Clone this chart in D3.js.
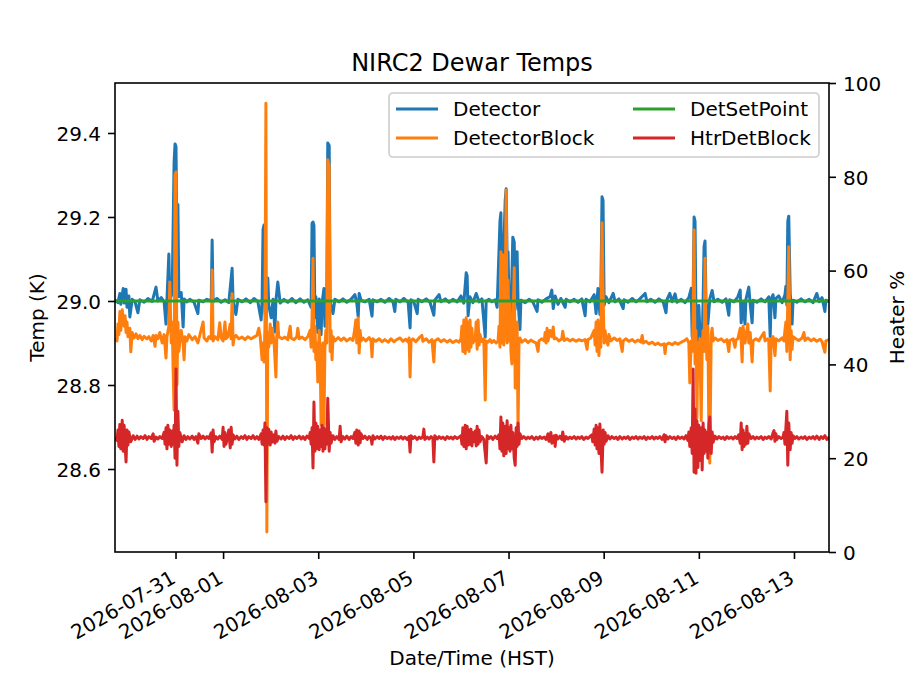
<!DOCTYPE html>
<html>
<head>
<meta charset="utf-8">
<script src="https://cdn.jsdelivr.net/npm/d3@7"></script>
<style>
body { margin: 0; background: #fff; }
text { font-family: "DejaVu Sans", sans-serif; fill: #000; }
</style>
</head>
<body>
<div id="chart"></div>
<script>
// time is in days since 2026-07-29 00:00 HST
const startDay = "2026-07-29";
const xLimits = [0.728, 15.736];
const tempLimits = [28.4024, 29.519];
const heaterLimits = [0, 100];
const tempTicks = [28.6, 28.8, 29.0, 29.2, 29.4];
const heaterTicks = [0, 20, 40, 60, 80, 100];
const dateTicks = ["2026-07-31", "2026-08-01", "2026-08-03", "2026-08-05", "2026-08-07", "2026-08-09", "2026-08-11", "2026-08-13"];
const seriesNames = ["Detector", "DetectorBlock", "DetSetPoint", "HtrDetBlock"];

// Detector temperature (K)
const detector = [[0.73,29.002],[0.79,28.996],[0.83,29.018],[0.85,28.992],[0.90,29.030],[0.92,28.995],[0.96,29.028],[0.98,28.985],[1.02,29.012],[1.04,28.962],[1.09,29.004],[1.15,28.998],[1.21,28.972],[1.25,29.003],[1.34,28.997],[1.42,29.006],[1.51,28.999],[1.59,29.033],[1.63,29.000],[1.70,29.008],[1.76,28.998],[1.80,28.945],[1.82,29.002],[1.86,29.112],[1.88,29.000],[1.93,29.020],[1.97,29.330],[1.99,29.374],[2.01,29.368],[2.03,29.150],[2.05,29.230],[2.07,29.010],[2.12,29.020],[2.16,28.938],[2.18,29.005],[2.24,28.998],[2.30,29.004],[2.39,28.997],[2.47,28.970],[2.49,29.002],[2.58,28.998],[2.66,29.004],[2.75,29.000],[2.77,29.145],[2.79,28.998],[2.87,29.006],[2.96,28.997],[3.04,29.003],[3.12,28.996],[3.19,29.078],[3.21,29.000],[3.27,28.968],[3.31,29.004],[3.40,28.998],[3.48,29.005],[3.57,28.996],[3.65,29.006],[3.73,28.999],[3.80,28.955],[3.82,29.002],[3.84,29.170],[3.86,29.181],[3.88,28.975],[3.90,28.950],[3.94,29.055],[3.96,28.990],[4.01,28.960],[4.05,29.004],[4.09,28.926],[4.11,29.000],[4.15,29.045],[4.20,28.995],[4.28,29.004],[4.36,28.997],[4.45,29.006],[4.53,28.996],[4.62,29.005],[4.70,28.997],[4.78,29.003],[4.85,28.985],[4.87,29.185],[4.89,29.188],[4.91,29.180],[4.93,28.960],[4.95,29.010],[4.99,28.925],[5.02,29.005],[5.06,28.920],[5.08,28.995],[5.12,29.030],[5.14,28.940],[5.18,29.010],[5.20,29.376],[5.23,29.370],[5.25,29.000],[5.31,28.970],[5.35,29.004],[5.44,28.998],[5.52,29.005],[5.60,28.997],[5.69,29.004],[5.77,29.015],[5.81,28.995],[5.84,28.962],[5.86,29.018],[5.90,29.002],[5.98,28.998],[6.07,29.004],[6.13,28.964],[6.15,29.003],[6.24,28.998],[6.32,29.004],[6.40,28.997],[6.49,29.006],[6.57,28.998],[6.61,28.975],[6.63,29.004],[6.72,28.998],[6.80,29.006],[6.89,28.997],[6.93,28.936],[6.95,29.003],[7.01,28.998],[7.08,28.970],[7.10,29.004],[7.18,28.998],[7.27,29.005],[7.35,28.997],[7.43,28.966],[7.45,29.002],[7.54,29.015],[7.58,28.998],[7.67,29.005],[7.75,28.997],[7.83,29.004],[7.92,28.998],[8.00,29.012],[8.06,28.995],[8.11,29.067],[8.13,29.060],[8.15,28.965],[8.19,29.010],[8.25,28.996],[8.32,29.018],[8.38,28.998],[8.44,29.005],[8.51,28.914],[8.53,29.000],[8.59,29.004],[8.65,28.998],[8.72,29.003],[8.76,28.985],[8.82,29.190],[8.84,29.210],[8.86,29.000],[8.88,29.050],[8.93,29.240],[8.95,29.267],[8.97,29.100],[8.99,29.117],[9.01,28.990],[9.05,28.960],[9.09,29.152],[9.12,29.140],[9.14,28.980],[9.18,29.117],[9.20,29.000],[9.24,28.932],[9.26,29.002],[9.35,28.996],[9.43,29.004],[9.51,28.998],[9.60,28.975],[9.62,29.003],[9.70,28.997],[9.79,29.005],[9.87,29.010],[9.91,29.026],[9.94,28.982],[9.98,29.012],[10.04,28.992],[10.10,29.006],[10.19,28.985],[10.21,29.004],[10.29,28.998],[10.38,29.004],[10.46,28.997],[10.54,29.005],[10.61,28.965],[10.63,29.004],[10.71,28.998],[10.80,29.015],[10.84,28.970],[10.88,29.030],[10.92,28.968],[10.94,29.020],[10.965,29.248],[10.986,29.240],[11.01,28.990],[11.05,29.010],[11.11,28.996],[11.20,29.018],[11.24,28.998],[11.32,29.005],[11.41,28.982],[11.43,29.003],[11.51,28.997],[11.60,29.006],[11.68,28.998],[11.76,29.005],[11.87,29.018],[11.91,28.998],[11.99,29.004],[12.08,28.997],[12.16,29.005],[12.25,28.998],[12.31,28.972],[12.33,29.003],[12.39,29.018],[12.44,28.998],[12.50,29.017],[12.54,28.997],[12.63,29.004],[12.71,28.996],[12.79,29.008],[12.84,29.030],[12.86,28.915],[12.88,29.010],[12.90,29.200],[12.92,29.190],[12.94,28.960],[12.98,28.900],[13.00,28.990],[13.02,28.930],[13.07,28.905],[13.09,29.000],[13.11,29.130],[13.13,29.143],[13.15,29.000],[13.19,28.945],[13.23,29.005],[13.28,29.025],[13.32,28.998],[13.40,29.004],[13.49,28.997],[13.57,29.005],[13.63,28.966],[13.65,29.003],[13.74,28.998],[13.82,29.010],[13.87,29.026],[13.89,28.948],[13.93,28.995],[13.97,28.945],[13.99,29.004],[14.05,29.033],[14.08,28.992],[14.12,28.948],[14.14,29.002],[14.22,28.997],[14.31,29.005],[14.39,28.998],[14.47,29.010],[14.50,28.915],[14.52,29.004],[14.56,29.015],[14.60,28.960],[14.62,29.006],[14.68,29.012],[14.75,28.996],[14.81,29.015],[14.83,29.035],[14.85,28.990],[14.87,29.190],[14.89,29.202],[14.92,29.020],[14.96,28.945],[14.98,29.002],[15.06,28.997],[15.15,29.005],[15.23,28.998],[15.32,29.004],[15.40,28.996],[15.48,29.018],[15.53,28.998],[15.59,29.008],[15.65,28.975],[15.67,29.002],[15.74,28.998]];

// DetectorBlock temperature (K)
const detectorBlock = [[0.73,28.912],[0.77,28.905],[0.79,28.945],[0.81,28.920],[0.83,28.975],[0.85,28.930],[0.88,28.979],[0.92,28.940],[0.94,28.965],[0.96,28.925],[0.98,28.950],[1.00,28.915],[1.04,28.935],[1.06,28.879],[1.09,28.925],[1.13,28.912],[1.17,28.922],[1.21,28.910],[1.25,28.918],[1.30,28.908],[1.34,28.916],[1.40,28.910],[1.44,28.915],[1.49,28.905],[1.53,28.918],[1.57,28.892],[1.59,28.918],[1.63,28.910],[1.67,28.925],[1.72,28.900],[1.76,28.920],[1.80,28.864],[1.82,28.915],[1.86,28.940],[1.88,29.045],[1.91,28.900],[1.93,28.950],[1.95,28.836],[1.97,28.740],[1.99,29.300],[2.01,29.307],[2.03,28.800],[2.05,28.950],[2.07,28.880],[2.12,28.930],[2.16,28.900],[2.18,28.860],[2.20,28.915],[2.24,28.905],[2.28,28.920],[2.35,28.908],[2.41,28.915],[2.47,28.900],[2.51,28.918],[2.58,28.950],[2.60,28.912],[2.66,28.905],[2.70,28.915],[2.75,28.910],[2.77,29.074],[2.79,28.905],[2.83,28.915],[2.89,28.908],[2.93,28.948],[2.96,28.912],[3.00,28.905],[3.04,28.950],[3.06,28.910],[3.10,28.915],[3.15,28.945],[3.17,28.910],[3.19,29.017],[3.21,28.895],[3.23,28.912],[3.27,28.918],[3.33,28.910],[3.40,28.914],[3.46,28.908],[3.52,28.915],[3.59,28.910],[3.65,28.914],[3.71,28.918],[3.75,28.935],[3.78,28.915],[3.82,28.860],[3.84,28.900],[3.86,28.855],[3.88,28.940],[3.90,29.471],[3.92,28.450],[3.94,28.925],[3.96,28.890],[3.99,28.945],[4.01,28.900],[4.03,28.935],[4.07,28.905],[4.11,28.819],[4.13,28.920],[4.15,28.950],[4.17,28.915],[4.24,28.910],[4.30,28.914],[4.36,28.908],[4.41,28.940],[4.43,28.912],[4.49,28.908],[4.55,28.915],[4.57,28.935],[4.60,28.910],[4.66,28.914],[4.72,28.908],[4.78,28.915],[4.83,28.930],[4.85,28.890],[4.87,28.960],[4.89,29.102],[4.91,28.880],[4.93,28.940],[4.95,28.860],[4.97,28.900],[4.99,28.807],[5.02,28.930],[5.04,28.870],[5.06,28.705],[5.08,28.880],[5.10,28.900],[5.12,28.705],[5.14,28.890],[5.16,28.930],[5.18,28.900],[5.20,29.336],[5.23,29.320],[5.25,28.880],[5.27,28.930],[5.29,28.860],[5.31,28.915],[5.35,28.905],[5.42,28.913],[5.48,28.906],[5.54,28.912],[5.60,28.905],[5.67,28.911],[5.73,28.906],[5.77,28.935],[5.79,28.955],[5.81,28.900],[5.84,28.960],[5.86,28.876],[5.88,28.930],[5.90,28.905],[5.94,28.912],[6.00,28.905],[6.07,28.913],[6.11,28.905],[6.13,28.867],[6.15,28.910],[6.21,28.904],[6.28,28.910],[6.34,28.903],[6.40,28.908],[6.47,28.902],[6.53,28.910],[6.59,28.903],[6.65,28.908],[6.72,28.912],[6.78,28.904],[6.84,28.909],[6.89,28.902],[6.91,28.912],[6.93,28.819],[6.95,28.905],[6.99,28.910],[7.05,28.903],[7.12,28.912],[7.18,28.918],[7.20,28.904],[7.27,28.910],[7.33,28.902],[7.39,28.908],[7.43,28.855],[7.45,28.905],[7.52,28.910],[7.58,28.903],[7.64,28.908],[7.71,28.902],[7.77,28.907],[7.83,28.901],[7.90,28.906],[7.96,28.902],[8.00,28.910],[8.02,28.940],[8.04,28.880],[8.06,28.955],[8.09,28.875],[8.11,28.960],[8.13,28.885],[8.15,28.950],[8.17,28.880],[8.19,28.955],[8.21,28.890],[8.23,28.935],[8.25,28.900],[8.30,28.910],[8.32,28.950],[8.34,28.885],[8.36,28.955],[8.38,28.895],[8.40,28.920],[8.44,28.903],[8.48,28.910],[8.51,28.764],[8.53,28.905],[8.57,28.902],[8.61,28.908],[8.65,28.901],[8.69,28.906],[8.74,28.900],[8.78,28.905],[8.80,28.940],[8.82,28.890],[8.84,29.117],[8.86,28.900],[8.88,29.110],[8.90,28.895],[8.93,29.000],[8.95,29.264],[8.97,28.900],[8.99,29.050],[9.01,28.905],[9.03,29.000],[9.05,28.880],[9.07,28.850],[9.09,28.920],[9.12,29.079],[9.14,28.793],[9.16,28.910],[9.18,28.950],[9.20,28.693],[9.22,28.905],[9.24,28.912],[9.28,28.902],[9.35,28.908],[9.41,28.901],[9.47,28.907],[9.54,28.902],[9.58,28.900],[9.62,28.880],[9.64,28.905],[9.70,28.910],[9.75,28.905],[9.77,28.925],[9.79,28.900],[9.81,28.935],[9.83,28.905],[9.87,28.930],[9.91,28.915],[9.94,28.938],[9.96,28.910],[10.00,28.912],[10.06,28.905],[10.12,28.910],[10.14,28.928],[10.17,28.906],[10.23,28.910],[10.29,28.905],[10.35,28.909],[10.42,28.904],[10.48,28.908],[10.54,28.905],[10.61,28.908],[10.65,28.885],[10.67,28.908],[10.73,28.912],[10.80,28.930],[10.82,28.895],[10.84,28.950],[10.86,28.880],[10.88,28.955],[10.90,28.870],[10.92,28.940],[10.94,28.890],[10.965,29.186],[10.99,29.000],[11.01,28.900],[11.03,28.930],[11.05,28.910],[11.09,28.895],[11.11,28.920],[11.15,28.905],[11.22,28.912],[11.28,28.906],[11.34,28.910],[11.39,28.880],[11.41,28.905],[11.47,28.910],[11.53,28.904],[11.60,28.908],[11.66,28.902],[11.72,28.907],[11.78,28.902],[11.81,28.918],[11.83,28.900],[11.89,28.904],[11.95,28.898],[12.02,28.902],[12.08,28.896],[12.14,28.900],[12.20,28.895],[12.27,28.898],[12.29,28.875],[12.31,28.896],[12.37,28.900],[12.44,28.896],[12.50,28.901],[12.56,28.897],[12.63,28.902],[12.69,28.905],[12.75,28.910],[12.79,28.900],[12.81,28.805],[12.84,28.905],[12.86,28.880],[12.88,28.950],[12.90,29.169],[12.92,28.850],[12.94,28.930],[12.96,28.721],[12.98,28.900],[13.00,28.870],[13.02,28.910],[13.05,28.715],[13.07,28.890],[13.09,28.930],[13.11,28.880],[13.13,29.102],[13.15,28.920],[13.17,28.860],[13.19,28.940],[13.21,28.700],[13.23,28.614],[13.26,28.920],[13.28,28.935],[13.30,28.905],[13.34,28.912],[13.40,28.906],[13.47,28.910],[13.53,28.903],[13.59,28.908],[13.63,28.880],[13.65,28.906],[13.72,28.910],[13.76,28.890],[13.78,28.907],[13.82,28.910],[13.87,28.935],[13.89,28.905],[13.91,28.855],[13.93,28.940],[13.97,28.900],[14.01,28.930],[14.03,28.945],[14.05,28.900],[14.08,28.925],[14.12,28.855],[14.14,28.905],[14.20,28.910],[14.26,28.905],[14.33,28.918],[14.37,28.925],[14.39,28.905],[14.45,28.910],[14.47,28.905],[14.50,28.786],[14.52,28.910],[14.56,28.915],[14.60,28.870],[14.62,28.910],[14.68,28.905],[14.75,28.912],[14.79,28.905],[14.81,28.930],[14.83,28.950],[14.85,28.880],[14.87,29.000],[14.89,29.129],[14.92,28.860],[14.94,28.930],[14.96,28.885],[14.98,28.915],[15.04,28.910],[15.10,28.906],[15.17,28.912],[15.21,28.925],[15.23,28.906],[15.29,28.912],[15.36,28.905],[15.42,28.910],[15.48,28.904],[15.55,28.909],[15.59,28.903],[15.65,28.878],[15.67,28.905],[15.74,28.908]];

// DetSetPoint (K)
const detSetPoint = [[0.728,29.0],[15.736,29.0]];

// HtrDetBlock heater output (%)
const htrDetBlock = [[0.73,24.5],[0.77,23.8],[0.79,26.0],[0.81,22.5],[0.83,27.2],[0.85,22.0],[0.88,28.1],[0.90,21.5],[0.92,27.0],[0.94,23.0],[0.96,19.2],[0.98,26.0],[1.00,22.8],[1.02,25.6],[1.06,23.5],[1.11,24.8],[1.15,24.0],[1.19,24.7],[1.23,24.1],[1.27,24.6],[1.32,24.2],[1.36,24.8],[1.40,24.0],[1.44,24.6],[1.49,24.2],[1.53,25.2],[1.55,23.6],[1.59,24.5],[1.63,24.1],[1.67,24.6],[1.72,24.2],[1.76,25.5],[1.78,23.0],[1.80,26.5],[1.82,22.0],[1.84,27.0],[1.86,23.0],[1.88,26.0],[1.91,22.5],[1.93,25.8],[1.95,23.0],[1.97,27.0],[1.99,20.0],[2.01,39.0],[2.03,18.5],[2.05,30.0],[2.07,22.5],[2.09,25.5],[2.14,23.5],[2.18,24.8],[2.22,24.0],[2.26,24.6],[2.30,24.1],[2.35,24.7],[2.39,24.0],[2.43,24.6],[2.47,23.2],[2.49,25.2],[2.54,24.2],[2.58,24.7],[2.62,24.1],[2.66,24.6],[2.70,24.2],[2.75,25.4],[2.77,21.3],[2.79,26.0],[2.81,23.5],[2.85,24.6],[2.89,24.1],[2.93,24.7],[2.98,24.0],[3.00,26.6],[3.02,22.5],[3.04,25.5],[3.06,23.0],[3.10,24.6],[3.12,26.0],[3.15,22.2],[3.17,26.6],[3.19,23.0],[3.21,25.0],[3.25,24.1],[3.29,24.7],[3.33,24.0],[3.38,24.6],[3.42,24.2],[3.46,24.8],[3.50,24.0],[3.54,24.6],[3.59,24.2],[3.63,24.8],[3.67,24.1],[3.71,24.6],[3.75,24.0],[3.80,25.2],[3.82,23.0],[3.84,26.0],[3.86,22.8],[3.88,27.5],[3.90,10.7],[3.92,26.5],[3.94,23.0],[3.96,26.2],[3.99,22.8],[4.01,25.6],[4.03,23.4],[4.07,25.0],[4.09,23.2],[4.11,25.8],[4.13,23.6],[4.17,24.6],[4.22,24.1],[4.26,24.7],[4.30,24.0],[4.34,24.6],[4.39,24.2],[4.43,24.8],[4.47,24.0],[4.51,24.6],[4.55,24.2],[4.60,24.7],[4.64,24.1],[4.68,24.6],[4.72,24.0],[4.76,24.7],[4.81,24.2],[4.83,25.5],[4.85,23.0],[4.87,26.5],[4.89,17.9],[4.91,32.0],[4.93,21.5],[4.95,27.5],[4.97,22.0],[4.99,26.8],[5.02,21.8],[5.04,26.0],[5.06,22.5],[5.08,27.0],[5.10,21.5],[5.12,26.5],[5.14,22.0],[5.16,26.0],[5.18,23.0],[5.20,32.8],[5.23,21.5],[5.25,25.5],[5.27,23.2],[5.31,24.8],[5.35,24.0],[5.39,24.6],[5.44,24.0],[5.46,26.8],[5.48,23.5],[5.52,24.6],[5.56,24.1],[5.60,24.7],[5.65,24.0],[5.69,24.6],[5.73,24.2],[5.77,25.5],[5.79,23.2],[5.81,26.0],[5.84,22.8],[5.86,25.8],[5.88,23.3],[5.90,25.2],[5.94,24.2],[5.98,24.7],[6.03,24.0],[6.07,24.6],[6.11,24.2],[6.13,23.0],[6.15,24.8],[6.19,24.1],[6.24,24.6],[6.28,24.2],[6.32,24.7],[6.36,24.0],[6.40,24.6],[6.45,24.2],[6.49,24.5],[6.53,24.1],[6.57,24.6],[6.61,24.0],[6.65,24.5],[6.70,24.2],[6.74,24.6],[6.78,24.1],[6.82,24.5],[6.87,24.0],[6.91,24.6],[6.93,21.3],[6.95,24.8],[6.99,24.2],[7.03,24.6],[7.08,24.0],[7.12,24.5],[7.16,24.2],[7.20,24.6],[7.22,26.2],[7.24,24.0],[7.29,24.5],[7.33,24.1],[7.37,24.6],[7.41,24.2],[7.43,19.2],[7.45,24.8],[7.50,24.1],[7.54,24.6],[7.58,24.2],[7.62,24.5],[7.67,24.0],[7.71,24.6],[7.75,24.2],[7.79,24.5],[7.83,24.1],[7.87,24.6],[7.92,24.2],[7.96,24.5],[8.00,24.8],[8.02,23.0],[8.04,26.5],[8.06,22.5],[8.09,27.0],[8.11,22.0],[8.13,26.8],[8.15,22.8],[8.17,26.0],[8.19,23.0],[8.21,26.2],[8.23,22.6],[8.25,25.5],[8.27,23.5],[8.30,25.8],[8.32,22.6],[8.34,26.8],[8.36,23.0],[8.38,26.0],[8.40,23.5],[8.44,24.6],[8.48,24.0],[8.53,19.0],[8.55,24.8],[8.59,24.2],[8.63,24.6],[8.67,24.0],[8.72,24.7],[8.76,24.2],[8.80,25.0],[8.82,22.0],[8.84,28.8],[8.86,21.5],[8.88,27.5],[8.90,20.5],[8.93,26.8],[8.95,21.0],[8.97,28.0],[8.99,22.0],[9.01,26.5],[9.03,21.5],[9.05,27.0],[9.07,22.0],[9.09,25.5],[9.12,20.0],[9.14,18.5],[9.16,26.5],[9.18,22.5],[9.20,27.5],[9.22,23.0],[9.24,25.2],[9.28,24.2],[9.32,24.6],[9.37,24.1],[9.41,24.5],[9.45,24.2],[9.49,24.6],[9.54,24.0],[9.58,24.5],[9.62,24.1],[9.66,24.6],[9.70,24.2],[9.75,24.5],[9.79,24.0],[9.83,25.2],[9.85,23.6],[9.89,25.5],[9.91,23.2],[9.96,24.8],[9.98,22.5],[10.00,24.9],[10.04,24.1],[10.08,24.7],[10.12,24.0],[10.14,25.6],[10.17,23.6],[10.21,24.6],[10.25,24.1],[10.29,24.5],[10.33,24.2],[10.38,24.6],[10.42,24.1],[10.46,24.5],[10.50,24.2],[10.54,24.6],[10.58,24.0],[10.63,24.5],[10.67,24.2],[10.71,24.6],[10.75,25.0],[10.77,23.5],[10.80,26.2],[10.82,22.8],[10.84,27.0],[10.86,22.0],[10.88,26.5],[10.90,21.0],[10.92,27.3],[10.94,23.0],[10.965,17.0],[10.99,26.0],[11.01,23.0],[11.03,25.5],[11.05,23.6],[11.09,24.8],[11.13,24.1],[11.17,24.6],[11.22,24.2],[11.26,24.5],[11.30,24.0],[11.34,24.6],[11.39,24.1],[11.43,24.5],[11.47,24.2],[11.51,24.6],[11.55,24.0],[11.60,24.5],[11.64,24.2],[11.68,24.6],[11.72,24.1],[11.76,24.5],[11.81,24.2],[11.85,24.6],[11.89,24.0],[11.93,24.5],[11.97,24.2],[12.02,24.6],[12.06,24.1],[12.10,24.5],[12.14,24.2],[12.18,24.6],[12.23,24.0],[12.27,25.0],[12.29,23.5],[12.31,24.8],[12.35,24.1],[12.39,24.6],[12.44,24.2],[12.48,24.5],[12.52,24.0],[12.56,24.6],[12.60,24.2],[12.65,24.5],[12.69,24.1],[12.73,24.8],[12.77,23.8],[12.79,25.6],[12.81,22.5],[12.84,26.5],[12.86,21.0],[12.88,39.0],[12.90,17.0],[12.92,30.5],[12.94,16.8],[12.96,28.0],[12.98,18.0],[13.00,27.0],[13.02,19.5],[13.05,26.5],[13.07,17.5],[13.09,27.5],[13.11,21.0],[13.13,26.0],[13.15,21.5],[13.17,25.5],[13.19,20.0],[13.21,27.0],[13.23,28.8],[13.26,21.0],[13.28,25.6],[13.30,23.4],[13.34,24.7],[13.38,24.1],[13.42,24.6],[13.47,24.2],[13.51,24.5],[13.55,24.0],[13.59,24.6],[13.63,24.2],[13.68,24.5],[13.72,24.1],[13.76,24.6],[13.80,24.2],[13.84,25.0],[13.87,23.2],[13.89,27.5],[13.91,21.8],[13.93,26.0],[13.95,22.5],[13.97,25.2],[13.99,23.0],[14.01,26.8],[14.03,23.2],[14.05,25.2],[14.10,24.2],[14.14,24.6],[14.18,24.1],[14.22,24.5],[14.26,24.2],[14.31,24.6],[14.35,24.0],[14.39,24.5],[14.43,24.2],[14.47,24.6],[14.52,24.1],[14.56,25.4],[14.58,25.9],[14.60,23.6],[14.62,25.2],[14.64,24.0],[14.68,24.6],[14.73,24.2],[14.77,24.5],[14.79,25.5],[14.81,23.0],[14.83,26.5],[14.85,30.0],[14.87,18.5],[14.89,27.5],[14.92,21.8],[14.94,25.5],[14.96,23.2],[14.98,24.8],[15.02,24.2],[15.06,24.6],[15.10,24.1],[15.15,24.5],[15.19,24.2],[15.23,24.6],[15.27,24.0],[15.32,24.5],[15.36,24.2],[15.40,24.6],[15.44,24.1],[15.48,24.7],[15.53,24.0],[15.57,24.6],[15.61,24.2],[15.65,24.8],[15.69,24.0],[15.74,24.5]];

const width = 921, height = 691;
const plot = { left: 115, right: 829, top: 83, bottom: 552 };
const colors = ["#1f77b4", "#ff7f0e", "#2ca02c", "#d62728"];

const parseDay = d3.timeParse("%Y-%m-%d");
const t0 = parseDay(startDay);
const toDate = d => new Date(t0.getTime() + d * 864e5);

const x = d3.scaleTime().domain(xLimits.map(toDate)).range([plot.left, plot.right]);
const y = d3.scaleLinear().domain(tempLimits).range([plot.bottom, plot.top]);
const y2 = d3.scaleLinear().domain(heaterLimits).range([plot.bottom, plot.top]);

const svg = d3.select("#chart").append("svg")
  .attr("width", width)
  .attr("height", height);

svg.append("defs").append("clipPath").attr("id", "clip")
  .append("rect")
  .attr("x", plot.left).attr("y", plot.top)
  .attr("width", plot.right - plot.left).attr("height", plot.bottom - plot.top);

const tempLine = d3.line().x(d => x(toDate(d[0]))).y(d => y(d[1]));
const heaterLine = d3.line().x(d => x(toDate(d[0]))).y(d => y2(d[1]));

const lines = svg.append("g").attr("clip-path", "url(#clip)");
[[detector, tempLine, 0], [detectorBlock, tempLine, 1], [detSetPoint, tempLine, 2], [htrDetBlock, heaterLine, 3]]
  .forEach(([data, gen, i]) => {
    lines.append("path")
      .datum(data)
      .attr("d", gen)
      .attr("fill", "none")
      .attr("stroke", colors[i])
      .attr("stroke-width", 3)
      .attr("stroke-linejoin", "round");
  });

// axes
function styleAxis(g) {
  g.select(".domain").remove();
  g.selectAll(".tick line").attr("stroke", "#000").attr("stroke-width", 1.6);
  g.selectAll(".tick text").attr("font-size", 20).attr("font-family", "DejaVu Sans").attr("fill", "#000");
}

svg.append("g")
  .attr("transform", `translate(${plot.left},0)`)
  .call(d3.axisLeft(y).tickValues(tempTicks).tickSize(7).tickPadding(7).tickFormat(d3.format(".1f")))
  .call(styleAxis)
  .selectAll(".tick text").attr("dy", "0.36em");

svg.append("g")
  .attr("transform", `translate(${plot.right},0)`)
  .call(d3.axisRight(y2).tickValues(heaterTicks).tickSize(7).tickPadding(7))
  .call(styleAxis)
  .selectAll(".tick text").attr("dy", "0.36em");

svg.append("g")
  .attr("transform", `translate(0,${plot.bottom})`)
  .call(d3.axisBottom(x).tickValues(dateTicks.map(parseDay)).tickSize(7).tickFormat(d3.timeFormat("%Y-%m-%d")))
  .call(styleAxis)
  .selectAll(".tick text")
  .attr("y", null)
  .attr("dy", null)
  .attr("text-anchor", "end")
  .attr("transform", "translate(1,30) rotate(-30)");

// frame
svg.append("rect")
  .attr("x", plot.left).attr("y", plot.top)
  .attr("width", plot.right - plot.left).attr("height", plot.bottom - plot.top)
  .attr("fill", "none").attr("stroke", "#000").attr("stroke-width", 1.6);

// labels
svg.append("text")
  .attr("x", (plot.left + plot.right) / 2).attr("y", 71)
  .attr("text-anchor", "middle").attr("font-size", 24)
  .text("NIRC2 Dewar Temps");

svg.append("text")
  .attr("x", (plot.left + plot.right) / 2).attr("y", 665)
  .attr("text-anchor", "middle").attr("font-size", 20)
  .text("Date/Time (HST)");

svg.append("text")
  .attr("transform", `translate(44,${(plot.top + plot.bottom) / 2}) rotate(-90)`)
  .attr("text-anchor", "middle").attr("font-size", 20)
  .text("Temp (K)");

svg.append("text")
  .attr("transform", `translate(904,${(plot.top + plot.bottom) / 2}) rotate(-90)`)
  .attr("text-anchor", "middle").attr("font-size", 20)
  .text("Heater %");

// legend
const legend = svg.append("g");
legend.append("rect")
  .attr("x", 389).attr("y", 93).attr("width", 430).attr("height", 64)
  .attr("rx", 4).attr("fill", "#fff").attr("fill-opacity", 0.8)
  .attr("stroke", "#cccccc").attr("stroke-width", 1.6);

const legendPos = [[396, 109], [396, 138], [633, 109], [633, 138]];
seriesNames.forEach((name, i) => {
  const [lx, ly] = legendPos[i];
  legend.append("line")
    .attr("x1", lx).attr("x2", lx + 42).attr("y1", ly).attr("y2", ly)
    .attr("stroke", colors[i]).attr("stroke-width", 3);
  legend.append("text")
    .attr("x", lx + 57).attr("y", ly).attr("dy", "0.36em")
    .attr("font-size", 20)
    .text(name);
});
</script>
</body>
</html>
